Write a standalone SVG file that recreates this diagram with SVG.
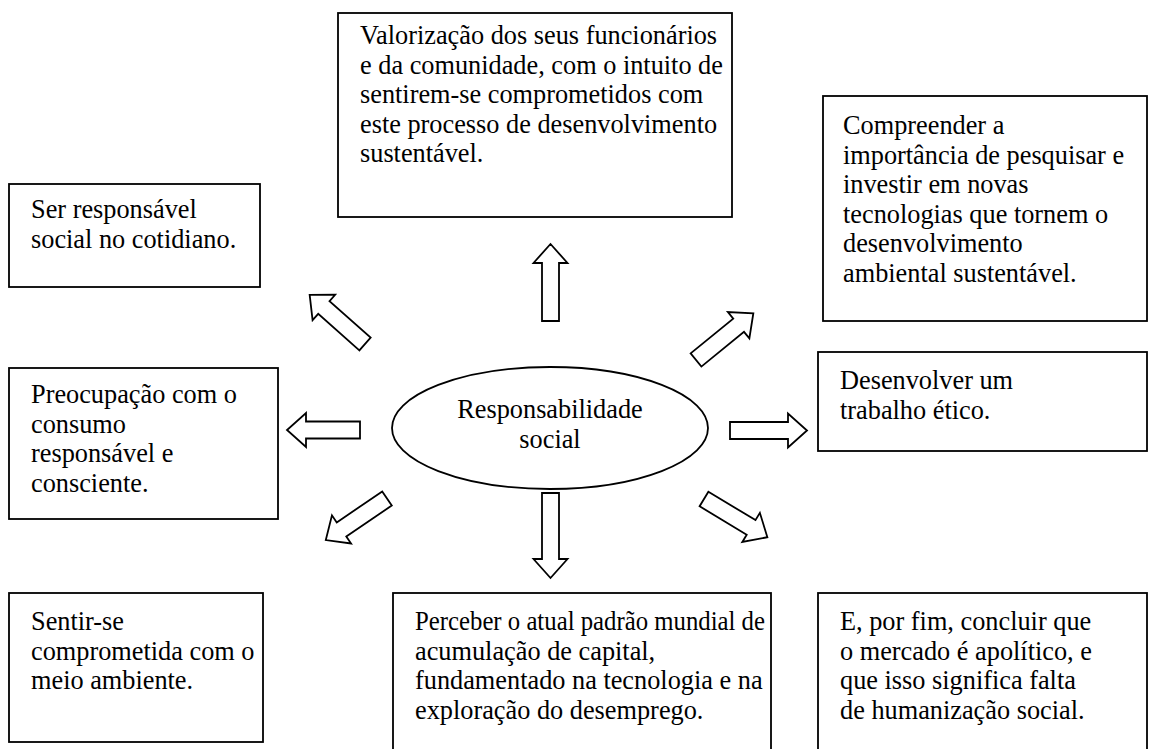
<svg xmlns="http://www.w3.org/2000/svg" width="1149" height="749" viewBox="0 0 1149 749">
<style>
.box{fill:#fff;stroke:#000;stroke-width:1.8}
text{font-family:'Liberation Serif','Times New Roman',serif;font-size:26.3px;fill:#000}
.arr{fill:#fff;stroke:#000;stroke-width:1.8;stroke-linejoin:miter}
</style>
<defs>
<path id="a74" d="M0,-8.5 H55 V-17 L74,0 L55,17 V8.5 H0 Z"/>
<path id="a77" d="M0,-8.5 H58 V-17 L77,0 L58,17 V8.5 H0 Z"/>
<path id="a85" d="M0,-8.5 H66 V-17 L85,0 L66,17 V8.5 H0 Z"/>
<path id="a73" d="M0,-8.5 H54 V-17 L73,0 L54,17 V8.5 H0 Z"/>
</defs>
<rect width="1149" height="749" fill="#fff"/>
<g id="connectors">
<use href="#a77" class="arr" transform="translate(550.5,321) rotate(-90)"/>
<use href="#a85" class="arr" transform="translate(550.5,493) rotate(90)"/>
<use href="#a73" class="arr" transform="translate(360,430) rotate(180)"/>
<use href="#a77" class="arr" transform="translate(730,430.5)"/>
<use href="#a74" class="arr" transform="translate(365,344) rotate(-138.4)"/>
<use href="#a74" class="arr" transform="translate(696,360) rotate(-39.2)"/>
<use href="#a74" class="arr" transform="translate(387,498.5) rotate(145.8)"/>
<use href="#a74" class="arr" transform="translate(704,499) rotate(31.1)"/>
</g>
<g id="center">
<ellipse cx="550" cy="428" rx="158" ry="61" class="box"/>
<text text-anchor="middle"><tspan x="550" y="418">Responsabilidade</tspan><tspan x="550" y="448">social</tspan></text>
</g>
<g id="n-valorizacao">
<rect x="338" y="13" width="394" height="204" class="box"/>
<text><tspan x="360" y="44">Valorização dos seus funcionários</tspan><tspan x="360" y="73.5">e da comunidade, com o intuito de</tspan><tspan x="360" y="103">sentirem-se comprometidos com</tspan><tspan x="360" y="132.5">este processo de desenvolvimento</tspan><tspan x="360" y="162">sustentável.</tspan></text>
</g>
<g id="n-compreender">
<rect x="823" y="96" width="324" height="225" class="box"/>
<text><tspan x="843" y="134">Compreender a</tspan><tspan x="843" y="163.5">importância de pesquisar e</tspan><tspan x="843" y="193">investir em novas</tspan><tspan x="843" y="222.5">tecnologias que tornem o</tspan><tspan x="843" y="252">desenvolvimento</tspan><tspan x="843" y="281.5">ambiental sustentável.</tspan></text>
</g>
<g id="n-ser">
<rect x="9" y="184" width="251" height="103" class="box"/>
<text><tspan x="31" y="218">Ser responsável</tspan><tspan x="31" y="247.5">social no cotidiano.</tspan></text>
</g>
<g id="n-preocupacao">
<rect x="9" y="368" width="269" height="151" class="box"/>
<text><tspan x="31" y="403">Preocupação com o</tspan><tspan x="31" y="432.5">consumo</tspan><tspan x="31" y="462">responsável e</tspan><tspan x="31" y="491.5">consciente.</tspan></text>
</g>
<g id="n-desenvolver">
<rect x="818" y="352" width="329" height="99" class="box"/>
<text><tspan x="840" y="389">Desenvolver um</tspan><tspan x="840" y="418.5">trabalho ético.</tspan></text>
</g>
<g id="n-sentir">
<rect x="9" y="593" width="254" height="149" class="box"/>
<text><tspan x="31" y="630">Sentir-se</tspan><tspan x="31" y="659.5">comprometida com o</tspan><tspan x="31" y="689">meio ambiente.</tspan></text>
</g>
<g id="n-perceber">
<rect x="393" y="593" width="378" height="170" class="box"/>
<text><tspan x="415" y="630" textLength="350" lengthAdjust="spacingAndGlyphs">Perceber o atual padrão mundial de</tspan><tspan x="415" y="659.5">acumulação de capital,</tspan><tspan x="415" y="689">fundamentado na tecnologia e na</tspan><tspan x="415" y="718.5">exploração do desemprego.</tspan></text>
</g>
<g id="n-fim">
<rect x="818" y="593" width="329" height="170" class="box"/>
<text><tspan x="840" y="630">E, por fim, concluir que</tspan><tspan x="840" y="659.5">o mercado é apolítico, e</tspan><tspan x="840" y="689">que isso significa falta</tspan><tspan x="840" y="718.5">de humanização social.</tspan></text>
</g>
</svg>
